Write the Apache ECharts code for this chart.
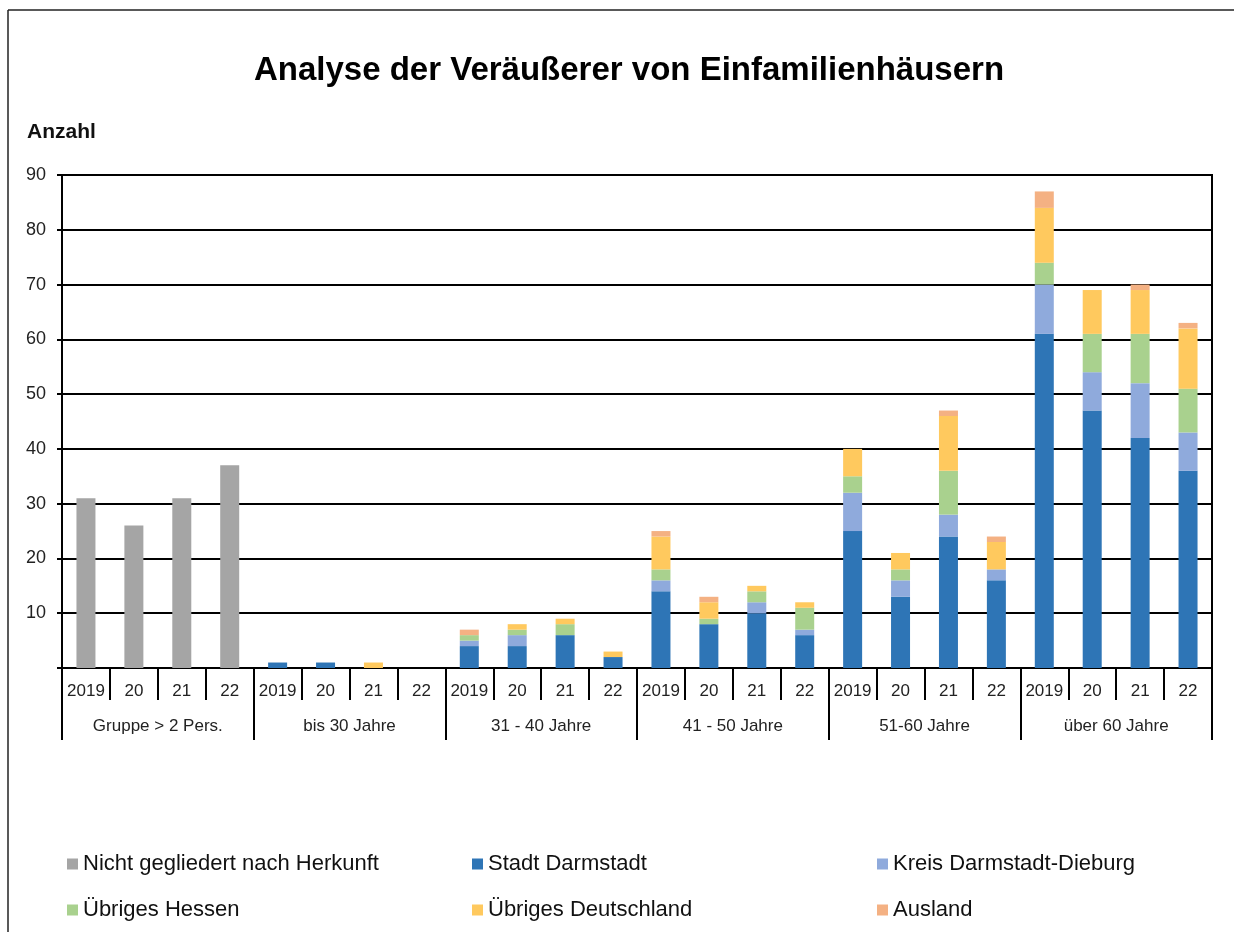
<!DOCTYPE html>
<html>
<head>
<meta charset="utf-8">
<script src="https://cdn.jsdelivr.net/npm/echarts@6/dist/echarts.min.js"></script>
<style>
  html, body { margin: 0; padding: 0; background: #fff; }
  #main { width: 1234px; height: 932px; }
</style>
</head>
<body>
<div id="main"></div>
<script>
// x-Achse: Jahre je Altersgruppe
const years = ['2019', '20', '21', '22']
const groups = ['Gruppe > 2 Pers.', 'bis 30 Jahre', '31 - 40 Jahre', '41 - 50 Jahre', '51-60 Jahre', 'über 60 Jahre']
const yTicks = [0, 10, 20, 30, 40, 50, 60, 70, 80, 90]

// Werte je Herkunft (6 Gruppen x 4 Jahre)
const nichtGegliedert = [31, 26, 31, 37, null, null, null, null, null, null, null, null, null, null, null, null, null, null, null, null, null, null, null, null]
const stadtDarmstadt = [null, null, null, null, 1, 1, 0, 0, 4, 4, 6, 2, 14, 8, 10, 6, 25, 13, 24, 16, 61, 47, 42, 36]
const kreisDaDi = [null, null, null, null, 0, 0, 0, 0, 1, 2, 0, 0, 2, 0, 2, 1, 7, 3, 4, 2, 9, 7, 10, 7]
const uebrigesHessen = [null, null, null, null, 0, 0, 0, 0, 1, 1, 2, 0, 2, 1, 2, 4, 3, 2, 8, 0, 4, 7, 9, 8]
const uebrigesDeutschland = [null, null, null, null, 0, 0, 1, 0, 0, 1, 1, 1, 6, 3, 1, 1, 5, 3, 10, 5, 10, 8, 8, 11]
const ausland = [null, null, null, null, 0, 0, 0, 0, 1, 0, 0, 0, 1, 1, 0, 0, 0, 0, 1, 1, 3, 0, 1, 1]

const yearLabels = []
groups.forEach(() => yearLabels.push(...years))

const font = 'Liberation Sans, Arial, sans-serif'
const colors = {
  grau: '#a5a5a5',
  stadt: '#2e75b6',
  kreis: '#8faadc',
  hessen: '#a9d18e',
  deutschland: '#ffc95e',
  ausland: '#f4b183'
}

function bar(name, data, color) {
  return {
    name: name,
    type: 'bar',
    stack: 'total',
    barWidth: 19,
    data: data,
    itemStyle: { color: color },
    emphasis: { disabled: true }
  }
}

const legendBase = {
  orient: 'vertical',
  top: 848,
  icon: 'rect',
  itemWidth: 11,
  itemHeight: 11,
  itemGap: 24,
  textStyle: { fontSize: 22, color: '#111', fontFamily: font },
  selectedMode: false
}

const option = {
  animation: false,
  title: [
    {
      text: 'Analyse der Veräußerer von Einfamilienhäusern',
      left: 624,
      textAlign: 'center',
      top: 49,
      textStyle: { fontSize: 33, fontWeight: 'bold', color: '#000', fontFamily: font }
    },
    {
      text: 'Anzahl',
      left: 22,
      top: 117,
      textStyle: { fontSize: 21, fontWeight: 'bold', color: '#111', fontFamily: font }
    }
  ],
  legend: [
    Object.assign({ left: 62, data: ['Nicht gegliedert nach Herkunft', 'Übriges Hessen'] }, legendBase),
    Object.assign({ left: 467, data: ['Stadt Darmstadt', 'Übriges Deutschland'] }, legendBase),
    Object.assign({ left: 872, data: ['Kreis Darmstadt-Dieburg', 'Ausland'] }, legendBase)
  ],
  grid: {
    left: 62,
    right: 22,
    top: 175,
    bottom: 264,
    show: true,
    borderColor: '#000',
    borderWidth: 2
  },
  xAxis: [
    {
      type: 'category',
      data: yearLabels,
      position: 'bottom',
      axisLine: { show: true, lineStyle: { color: '#000', width: 2 } },
      axisTick: { show: true, alignWithLabel: false, interval: 0, length: 32, lineStyle: { color: '#000', width: 2 } },
      axisLabel: { interval: 0, margin: 15, fontSize: 17, color: '#222', fontFamily: font }
    },
    {
      type: 'category',
      data: groups,
      position: 'bottom',
      axisLine: { show: false },
      axisTick: { show: true, alignWithLabel: false, interval: 0, length: 72, lineStyle: { color: '#000', width: 2 } },
      axisLabel: { interval: 0, margin: 50, fontSize: 17, color: '#222', fontFamily: font }
    }
  ],
  yAxis: {
    type: 'value',
    min: yTicks[0],
    max: yTicks[yTicks.length - 1],
    interval: 10,
    axisLine: { show: true, lineStyle: { color: '#000', width: 2 } },
    axisTick: { show: true, length: 5, lineStyle: { color: '#000', width: 2 } },
    axisLabel: {
      margin: 16,
      fontSize: 18,
      color: '#222',
      fontFamily: font,
      formatter: v => (v === 0 ? '' : v)
    },
    splitLine: { show: true, lineStyle: { color: '#000', width: 2 } }
  },
  series: [
    bar('Nicht gegliedert nach Herkunft', nichtGegliedert, colors.grau),
    bar('Stadt Darmstadt', stadtDarmstadt, colors.stadt),
    bar('Kreis Darmstadt-Dieburg', kreisDaDi, colors.kreis),
    bar('Übriges Hessen', uebrigesHessen, colors.hessen),
    bar('Übriges Deutschland', uebrigesDeutschland, colors.deutschland),
    bar('Ausland', ausland, colors.ausland)
  ],
  graphic: [
    // Rahmen oben und links
    { type: 'line', shape: { x1: 8, y1: 10, x2: 1234, y2: 10 }, style: { stroke: '#222', lineWidth: 1.5 } },
    { type: 'line', shape: { x1: 8, y1: 10, x2: 8, y2: 932 }, style: { stroke: '#222', lineWidth: 1.5 } }
  ]
}

echarts.init(document.getElementById('main')).setOption(option)
</script>
</body>
</html>
